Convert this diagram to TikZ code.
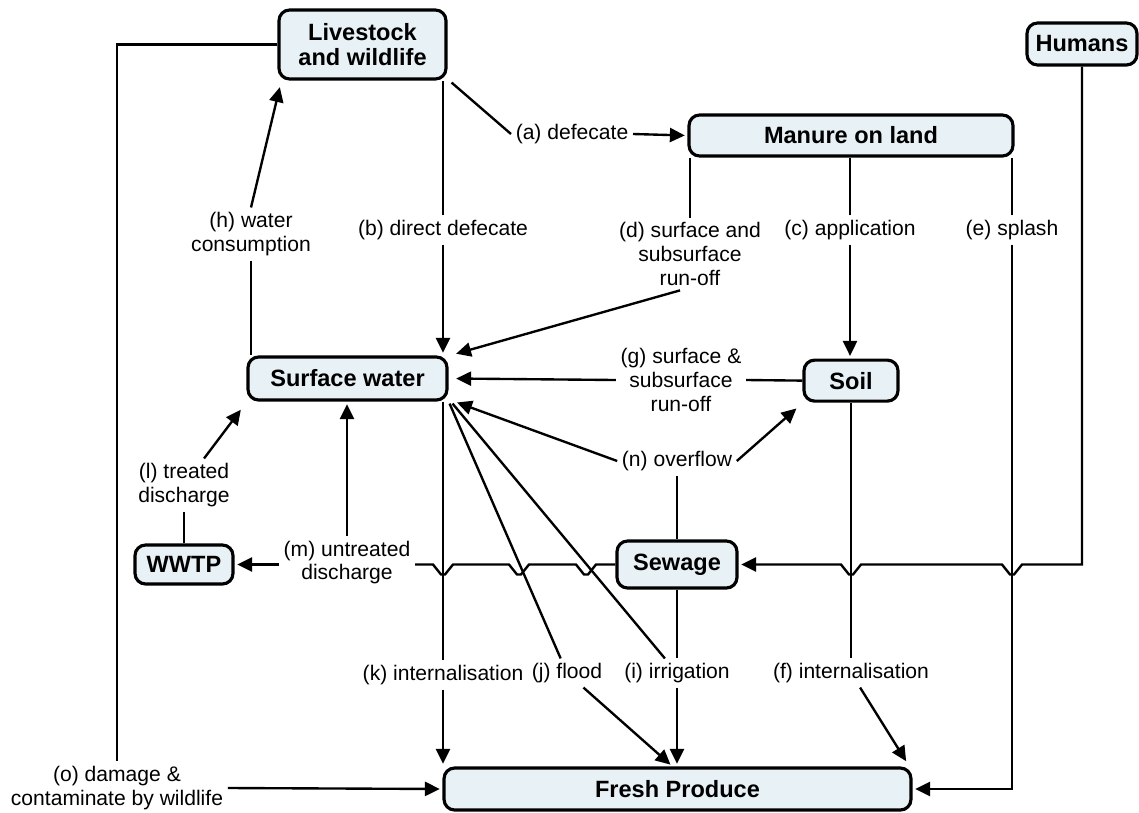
\documentclass[tikz,border=0pt]{standalone}
\usepackage{fontspec}
\setmainfont{Liberation Sans}
\usetikzlibrary{arrows.meta, positioning, calc}
\definecolor{boxfill}{HTML}{E8F1F5}

\begin{document}
\begin{tikzpicture}[
    x=0.02cm, y=-0.02cm,
    srcbox/.style={rectangle, draw, line width=1.8pt, rounded corners=6pt, fill=boxfill, align=center, inner sep=0pt, font=\fontsize{13.4}{14.7}\selectfont\bfseries},
    lbl/.style={align=center, inner sep=2.5pt, font=\fontsize{12}{13.6}\selectfont},
    link/.style={line width=1.35pt},
    arrow/.style={link, -{Triangle[length=8.5pt, width=8pt]}, shorten >=1.5pt}
  ]
    \useasboundingbox (0,0) rectangle (1139,812);

    % Boxes
    \node[srcbox, minimum width=3.34cm, minimum height=1.38cm] (live) at (362.5,44.5) {Livestock\\and wildlife};
    \node[srcbox, minimum width=2.2cm, minimum height=0.84cm] (humans) at (1082,44) {Humans};
    \node[srcbox, minimum width=6.48cm, minimum height=0.82cm] (manure) at (851,135.5) {Manure on land};
    \node[srcbox, minimum width=3.98cm, minimum height=0.86cm] (surf) at (347.5,378.5) {Surface water};
    \node[srcbox, minimum width=1.88cm, minimum height=0.82cm, below=4.02cm of manure] (soil) {Soil};
    \node[srcbox, minimum width=1.96cm, minimum height=0.78cm] (wwtp) at (184,564.5) {WWTP};
    \node[srcbox, minimum width=2.4cm, minimum height=0.94cm] (sewage) at (677,564.5) {Sewage};
    \node[srcbox, minimum width=9.34cm, minimum height=0.84cm] (fresh) at (677.5,789) {Fresh Produce};

    % Labels
    \node[lbl] (alab) at (572,134) {(a) defecate};
    \node[lbl] (blab) at (443,230) {(b) direct defecate};
    \node[lbl] (clab) at (850,230) {(c) application};
    \node[lbl] (dlab) at (690,254) {(d) surface and\\subsurface\\run-off};
    \node[lbl] (elab) at (1012,230) {(e) splash};
    \node[lbl] (flab) at (851,673) {(f) internalisation};
    \node[lbl] (glab) at (681,380) {(g) surface \&\\subsurface\\run-off};
    \node[lbl] (hlab) at (251,234) {(h) water\\consumption};
    \node[lbl] (ilab) at (677,673) {(i) irrigation};
    \node[lbl] (jlab) at (567,673) {(j) flood};
    \node[lbl] (klab) at (443,675) {(k) internalisation};
    \node[lbl] (llab) at (184,485) {(l) treated\\discharge};
    \node[lbl] (mlab) at (347,562.5) {(m) untreated\\discharge};
    \node[lbl] (nlab) at (677,461) {(n) overflow};
    \node[lbl] (olab) at (117,788) {(o) damage \&\\contaminate by wildlife};

    % Livestock and wildlife
    \draw[link] ([shift={(4,2)}]live.south east) -- (alab.west);
    \draw[arrow] (alab.east) -- (manure.west);
    \draw[link] (blab) -- (blab |- live.south);
    \draw[arrow] (blab) -- (blab |- surf.north);
    \draw[link] (live.west) -| (olab.north);
    \draw[arrow] (olab.east) -- (fresh.west);

    % Manure on land
    \draw[link] (dlab) -- (dlab |- manure.south);
    \draw[arrow] ([xshift=-0.2cm]dlab.south) -- ([shift={(5,-1)}]surf.north east);
    \draw[link] (clab) -- (clab |- manure.south);
    \draw[arrow] (clab) -- (clab |- soil.north);
    \draw[link] (elab) -- (elab |- manure.south);
    \draw[arrow] (elab) |- (fresh.east);

    % Surface water
    \draw[link] (hlab) -- (hlab |- surf.north);
    \draw[arrow] (hlab.north) -- ([shift={(3,4)}]live.south west);
    \draw[link] (klab) -- (klab |- surf.south);
    \draw[arrow] (klab) -- (klab |- fresh.north);
    \draw[link] ([shift={(1,2)}]surf.south east) -- (jlab);
    \draw[arrow] (jlab) -- ([xshift=-0.1cm]fresh.north);
    \draw[link] ([shift={(4,2)}]surf.south east) -- (ilab);
    \draw[arrow] (ilab) -- (ilab |- fresh.north);

    % Soil
    \draw[link] (soil.west) -- (glab.east);
    \draw[arrow] (glab.west) -- ([xshift=0.1cm]surf.east);
    \draw[link] (soil) -- (flab);
    \draw[arrow] (flab) -- ([shift={(-5,-3)}]fresh.north east);

    % Sewage
    \draw[link] (sewage.north) -- (nlab.south);
    \draw[arrow] (nlab.west) -- ([shift={(6,0)}]surf.south east);
    \draw[arrow] (nlab.east) -- ([shift={(-4,4)}]soil.south west);
    \draw[link] (sewage) -- (ilab);
    \draw[link] (sewage.west) -- (596,564.5) -- ++(-8,10) -- ++(-4,0) -- ++(-8,-10)
      -- (529,564.5) -- ++(-8,10) -- ++(-4,0) -- ++(-8,-10)
      -- ($(klab |- sewage.west)+(10,0)$) -- ++(-8,10) -- ++(-4,0) -- ++(-8,-10)
      -- (mlab.east |- sewage.west);
    \draw[arrow] (mlab.west |- wwtp.east) -- (wwtp.east);
    \draw[arrow] (mlab) -- (mlab |- surf.south);
    \draw[link] (wwtp) -- (llab);
    \draw[arrow] (llab) -- ([shift={(-4,6)}]surf.south west);

    % Humans
    \draw[arrow] (humans.south) |- ($(elab |- sewage.east)+(10,0)$) -- ++(-8,10) -- ++(-4,0) -- ++(-8,-10)
      -- ($(flab |- sewage.east)+(10,0)$) -- ++(-8,10) -- ++(-4,0) -- ++(-8,-10)
      -- (sewage.east);
  \end{tikzpicture}
\end{document}
